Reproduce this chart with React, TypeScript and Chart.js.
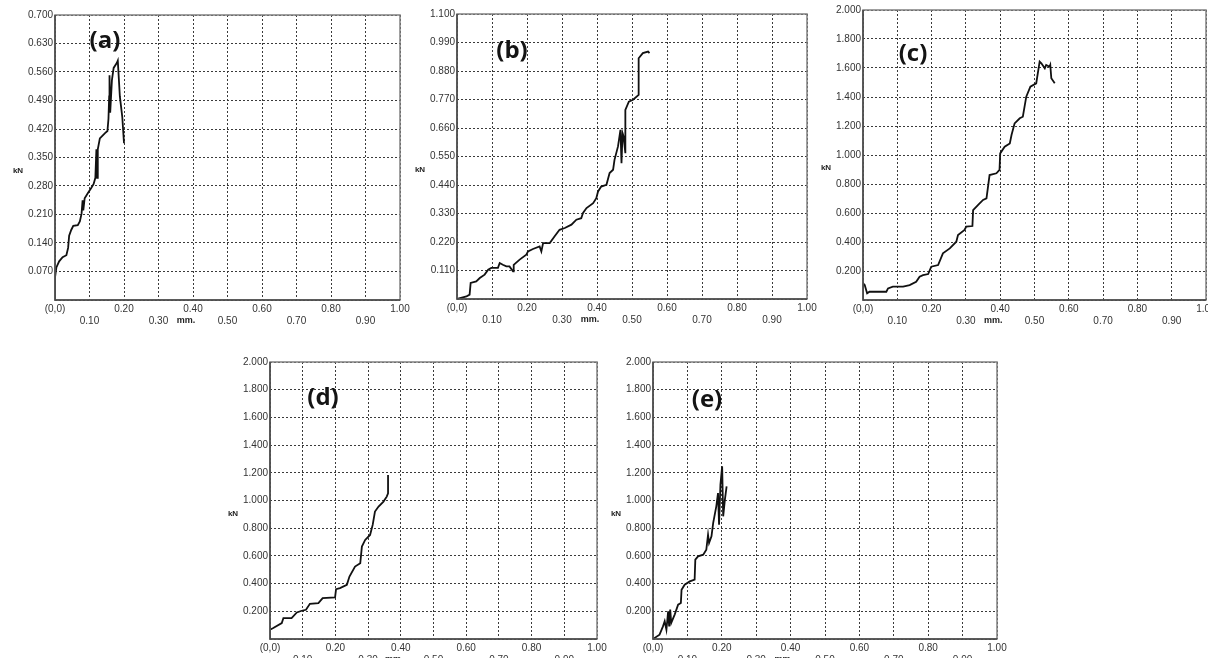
import React, { useEffect, useRef } from 'react';
import { Chart, registerables } from 'chart.js';

Chart.register(...registerables);

// ---------- data ----------
const X_TICKS = [0, 0.1, 0.2, 0.3, 0.4, 0.5, 0.6, 0.7, 0.8, 0.9, 1.0];
const X_LABELS = ['(0,0)', '0.10', '0.20', '0.30', '0.40', '0.50', '0.60', '0.70', '0.80', '0.90', '1.00'];
const Y_TICKS_A = [0, 0.07, 0.14, 0.21, 0.28, 0.35, 0.42, 0.49, 0.56, 0.63, 0.7];
const Y_TICKS_B = [0, 0.11, 0.22, 0.33, 0.44, 0.55, 0.66, 0.77, 0.88, 0.99, 1.1];
const Y_TICKS_CDE = [0, 0.2, 0.4, 0.6, 0.8, 1.0, 1.2, 1.4, 1.6, 1.8, 2.0];

const A_MM = [0, 0, 0.004, 0.012, 0.022, 0.033, 0.038, 0.041, 0.047, 0.053, 0.066, 0.072, 0.077, 0.08, 0.082, 0.086, 0.095, 0.105, 0.112, 0.117, 0.12, 0.122, 0.124, 0.13, 0.145, 0.152, 0.155, 0.157, 0.158, 0.16, 0.165, 0.17, 0.179, 0.182, 0.188, 0.195, 0.2];
const A_KN = [0, 0.055, 0.08, 0.095, 0.105, 0.11, 0.128, 0.158, 0.172, 0.182, 0.184, 0.193, 0.212, 0.245, 0.22, 0.25, 0.262, 0.275, 0.285, 0.3, 0.37, 0.3, 0.37, 0.397, 0.41, 0.415, 0.445, 0.5, 0.552, 0.46, 0.54, 0.57, 0.582, 0.588, 0.5, 0.45, 0.385];

const B_MM = [0, 0.027, 0.036, 0.039, 0.055, 0.065, 0.079, 0.089, 0.098, 0.117, 0.122, 0.131, 0.141, 0.15, 0.16, 0.162, 0.179, 0.198, 0.203, 0.217, 0.236, 0.241, 0.246, 0.265, 0.279, 0.293, 0.308, 0.327, 0.341, 0.355, 0.36, 0.37, 0.389, 0.398, 0.403, 0.412, 0.427, 0.436, 0.446, 0.45, 0.46, 0.467, 0.47, 0.473, 0.476, 0.481, 0.481, 0.491, 0.503, 0.519, 0.519, 0.531, 0.546, 0.55];
const B_KN = [0, 0.01, 0.017, 0.062, 0.068, 0.081, 0.094, 0.113, 0.12, 0.12, 0.139, 0.132, 0.126, 0.126, 0.107, 0.132, 0.152, 0.171, 0.184, 0.193, 0.203, 0.184, 0.216, 0.216, 0.242, 0.267, 0.274, 0.287, 0.306, 0.312, 0.332, 0.351, 0.37, 0.389, 0.415, 0.434, 0.441, 0.486, 0.499, 0.537, 0.589, 0.653, 0.524, 0.64, 0.627, 0.563, 0.73, 0.762, 0.769, 0.788, 0.929, 0.949, 0.955, 0.949];

const C_MM = [0, 0, 0.005, 0.012, 0.019, 0.068, 0.073, 0.087, 0.117, 0.136, 0.155, 0.165, 0.175, 0.19, 0.199, 0.219, 0.233, 0.253, 0.272, 0.277, 0.296, 0.301, 0.319, 0.321, 0.335, 0.35, 0.36, 0.369, 0.389, 0.398, 0.4, 0.413, 0.428, 0.433, 0.442, 0.457, 0.466, 0.476, 0.488, 0.505, 0.515, 0.52, 0.53, 0.534, 0.544, 0.546, 0.549, 0.559];
const C_KN = [0, 0.115, 0.103, 0.046, 0.057, 0.057, 0.08, 0.092, 0.092, 0.103, 0.126, 0.161, 0.172, 0.179, 0.23, 0.241, 0.322, 0.356, 0.402, 0.448, 0.483, 0.506, 0.51, 0.62, 0.655, 0.69, 0.701, 0.862, 0.874, 0.897, 1.011, 1.057, 1.08, 1.138, 1.218, 1.253, 1.264, 1.402, 1.471, 1.494, 1.644, 1.632, 1.598, 1.621, 1.609, 1.621, 1.529, 1.494];

const D_MM = [0, 0, 0.01, 0.036, 0.041, 0.066, 0.082, 0.097, 0.11, 0.122, 0.148, 0.161, 0.199, 0.202, 0.214, 0.235, 0.243, 0.26, 0.276, 0.281, 0.291, 0.306, 0.314, 0.321, 0.332, 0.347, 0.357, 0.361, 0.361];
const D_KN = [0, 0.067, 0.079, 0.115, 0.151, 0.151, 0.192, 0.204, 0.211, 0.254, 0.259, 0.295, 0.3, 0.36, 0.367, 0.391, 0.451, 0.523, 0.547, 0.667, 0.715, 0.751, 0.824, 0.92, 0.956, 0.992, 1.028, 1.052, 1.184];

const E_MM = [0, 0.019, 0.029, 0.034, 0.039, 0.044, 0.047, 0.05, 0.053, 0.063, 0.073, 0.081, 0.083, 0.092, 0.107, 0.121, 0.123, 0.131, 0.146, 0.155, 0.16, 0.163, 0.17, 0.175, 0.184, 0.189, 0.192, 0.196, 0.201, 0.204, 0.209, 0.214];
const E_KN = [0, 0.031, 0.091, 0.128, 0.067, 0.2, 0.091, 0.212, 0.116, 0.176, 0.248, 0.26, 0.356, 0.392, 0.416, 0.428, 0.573, 0.597, 0.609, 0.645, 0.753, 0.693, 0.741, 0.838, 0.958, 1.054, 0.826, 1.114, 1.247, 0.886, 1.006, 1.102];

// ---------- layout (plot rectangles in page pixels) ----------
type Panel = {
  tag: string;
  xs: number[];
  ys: number[];
  yTicks: number[];
  L: number; T: number; R: number; B: number;
  tagDx: number; tagDy: number;
};

const PANELS: Panel[] = [
  { tag: '(a)', xs: A_MM, ys: A_KN, yTicks: Y_TICKS_A, L: 55, T: 15, R: 400, B: 300, tagDx: 50, tagDy: 26 },
  { tag: '(b)', xs: B_MM, ys: B_KN, yTicks: Y_TICKS_B, L: 457, T: 14, R: 807, B: 299, tagDx: 55, tagDy: 37 },
  { tag: '(c)', xs: C_MM, ys: C_KN, yTicks: Y_TICKS_CDE, L: 863, T: 10, R: 1206, B: 300, tagDx: 50, tagDy: 44 },
  { tag: '(d)', xs: D_MM, ys: D_KN, yTicks: Y_TICKS_CDE, L: 270, T: 362, R: 597, B: 639, tagDx: 53, tagDy: 36 },
  { tag: '(e)', xs: E_MM, ys: E_KN, yTicks: Y_TICKS_CDE, L: 653, T: 362, R: 997, B: 639, tagDx: 54, tagDy: 38 },
];

const PAD_LEFT = 56;
const PAD_TOP = 12;
const PAD_RIGHT = 20;
const PAD_BOTTOM = 40;
const TICK_FONT = { family: '"Liberation Sans", Arial, sans-serif', size: 10, lineHeight: 1.2 };

const overlay = {
  id: 'overlay',
  afterDraw(chart: any, _args: any, opts: any) {
    const { ctx, chartArea: a } = chart;
    const xs = chart.scales.x;
    ctx.save();
    // frame
    ctx.setLineDash([]);
    ctx.strokeStyle = '#808080';
    ctx.lineWidth = 1.5;
    ctx.strokeRect(a.left, a.top, a.right - a.left, a.bottom - a.top);
    ctx.strokeStyle = '#444';
    ctx.lineWidth = 1.5;
    ctx.beginPath();
    ctx.moveTo(a.left, a.top);
    ctx.lineTo(a.left, a.bottom);
    ctx.lineTo(a.right, a.bottom);
    ctx.stroke();
    // axis names
    ctx.fillStyle = '#222';
    ctx.textAlign = 'center';
    ctx.textBaseline = 'middle';
    ctx.font = 'bold 8px "Liberation Sans", Arial, sans-serif';
    ctx.fillText('kN', a.left - 37, (a.top + a.bottom) / 2 + 13);
    ctx.font = 'bold 9px "Liberation Sans", Arial, sans-serif';
    ctx.fillText('mm.', xs.getPixelForValue(0.38), a.bottom + 21);
    // panel tag
    ctx.fillStyle = '#141414';
    ctx.font = 'bold 24px "Open Sans", "Noto Sans", sans-serif';
    ctx.fillText(opts.tag, a.left + opts.dx, a.top + opts.dy);
    ctx.restore();
  },
};

function PanelChart({ p }: { p: Panel }) {
  const ref = useRef<HTMLCanvasElement | null>(null);
  const w = p.R - p.L + PAD_LEFT + PAD_RIGHT;
  const h = p.B - p.T + PAD_TOP + PAD_BOTTOM;

  useEffect(() => {
    if (!ref.current) return;
    const data = p.xs.map((x, i) => ({ x, y: p.ys[i] }));
    const chart = new Chart(ref.current, {
      type: 'line',
      data: {
        datasets: [
          {
            data,
            borderColor: '#111',
            borderWidth: 1.8,
            pointRadius: 0,
            tension: 0,
            fill: false,
          },
        ],
      },
      options: {
        animation: false,
        responsive: false,
        devicePixelRatio: 1,
        layout: { padding: { top: PAD_TOP, right: PAD_RIGHT, left: 0, bottom: 0 } },
        plugins: {
          legend: { display: false },
          tooltip: { enabled: false },
          overlay: { tag: p.tag, dx: p.tagDx, dy: p.tagDy },
        } as any,
        scales: {
          x: {
            type: 'linear',
            min: 0,
            max: 1,
            afterBuildTicks: (s: any) => {
              s.ticks = X_TICKS.map((v) => ({ value: v }));
            },
            afterFit: (s: any) => {
              s.height = PAD_BOTTOM;
            },
            grid: { color: '#3a3a3a', lineWidth: 1, drawTicks: false },
            border: { display: false, dash: [2, 2] },
            ticks: {
              autoSkip: false,
              maxRotation: 0,
              minRotation: 0,
              padding: 3,
              color: '#333',
              font: TICK_FONT,
              callback: (_v: any, i: number) => (i % 2 === 0 ? X_LABELS[i] : ['', X_LABELS[i]]),
            },
          },
          y: {
            type: 'linear',
            min: 0,
            max: p.yTicks[p.yTicks.length - 1],
            afterBuildTicks: (s: any) => {
              s.ticks = p.yTicks.map((v) => ({ value: v }));
            },
            afterFit: (s: any) => {
              s.width = PAD_LEFT;
            },
            grid: { color: '#3a3a3a', lineWidth: 1, drawTicks: false },
            border: { display: false, dash: [2, 2] },
            ticks: {
              padding: 2,
              color: '#333',
              font: TICK_FONT,
              callback: (v: any, i: number) => (i === 0 ? '' : Number(v).toFixed(3)),
            },
          },
        },
      } as any,
      plugins: [overlay as any],
    });
    return () => chart.destroy();
  }, []);

  return (
    <canvas
      ref={ref}
      width={w}
      height={h}
      style={{ position: 'absolute', left: p.L - PAD_LEFT, top: p.T - PAD_TOP, width: w, height: h }}
    />
  );
}

export default function App() {
  useEffect(() => {
    document.body.style.margin = '0';
  }, []);
  return (
    <div
      style={{
        position: 'absolute',
        left: 0,
        top: 0,
        width: 1208,
        height: 658,
        overflow: 'hidden',
        background: '#fff',
      }}
    >
      {PANELS.map((p) => (
        <PanelChart key={p.tag} p={p} />
      ))}
    </div>
  );
}
